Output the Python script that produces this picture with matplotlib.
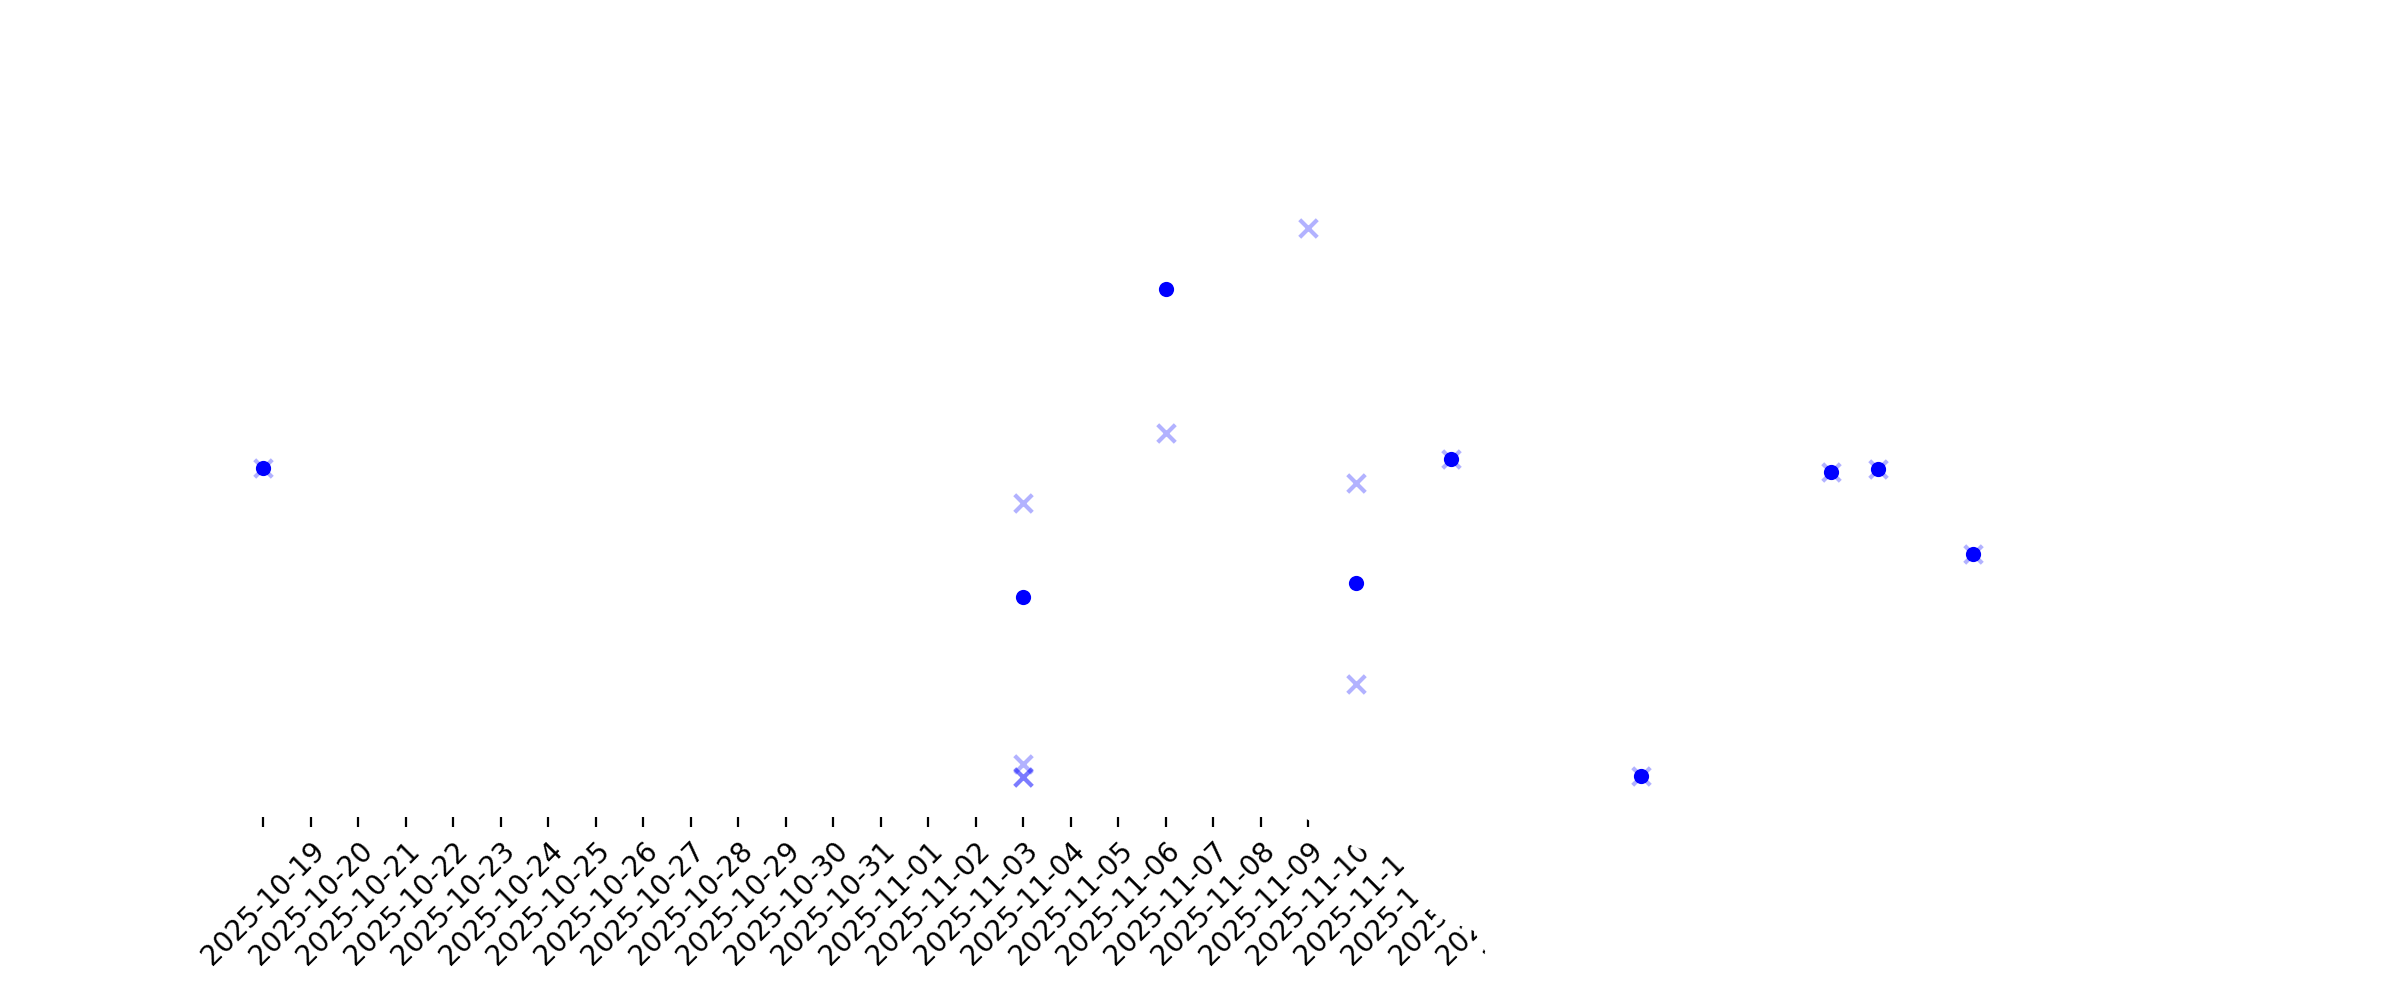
import matplotlib
matplotlib.use("Agg")
import matplotlib.pyplot as plt
from matplotlib.patches import Polygon
import pandas as pd

# ---- data ----
actual_dates = ["2025-10-19", "2025-11-04", "2025-11-07", "2025-11-11", "2025-11-13",
                "2025-11-17", "2025-11-21", "2025-11-22", "2025-11-24"]
actual_values = [50.1, 31.6, 75.8, 33.6, 51.4, 5.9, 49.5, 49.9, 37.7]

pred_dates = ["2025-10-19", "2025-11-04", "2025-11-04", "2025-11-04", "2025-11-04",
              "2025-11-07", "2025-11-10", "2025-11-11", "2025-11-11", "2025-11-13",
              "2025-11-17", "2025-11-21", "2025-11-22", "2025-11-24"]
pred_values = [50.1, 45.1, 7.6, 5.7, 5.7, 55.1, 84.5, 47.9, 19.1, 51.4, 5.9, 49.5, 49.9, 37.7]

tick_start = "2025-10-19"
tick_end = "2025-11-24"
x_range = ("2025-10-17", "2025-11-26")
y_range = (0, 100)

# ---- figure ----
W, H = 2400, 1000
fig = plt.figure(figsize=(12, 5), dpi=200)
ax = fig.add_axes([168.5 / W, 0.183, 1900 / W, 0.697])

ad = pd.to_datetime(actual_dates)
pdt = pd.to_datetime(pred_dates)

ax.scatter(pdt, pred_values, marker="x", s=40, linewidths=1.5,
           color="blue", alpha=0.3, zorder=3)
ax.scatter(ad, actual_values, marker="o", s=30, linewidths=0,
           color="blue", zorder=4)

ticks = pd.date_range(tick_start, tick_end, freq="D")
ax.set_xticks(ticks)
ax.set_xticklabels([t.strftime("%Y-%m-%d") for t in ticks], rotation=45, fontsize=10)
ax.set_xlim(pd.to_datetime(x_range[0]), pd.to_datetime(x_range[1]))
ax.set_ylim(*y_range)
ax.set_yticks([])
for s in ax.spines.values():
    s.set_visible(False)

# white occluding shape over the lower-right part of the date axis
pts = [(1290, 810), (1312, 822), (1352, 846), (1402, 861), (1414, 897),
       (1440, 918), (1474, 931), (1492, 964), (1525, 1000),
       (2400, 1000), (2400, 810)]
poly = Polygon([(x / W, 1 - y / H) for x, y in pts], closed=True,
               transform=fig.transFigure, facecolor="white", edgecolor="none",
               clip_on=False, zorder=2)
ax.add_patch(poly)

fig.savefig("out.png", dpi=200, facecolor="white")
